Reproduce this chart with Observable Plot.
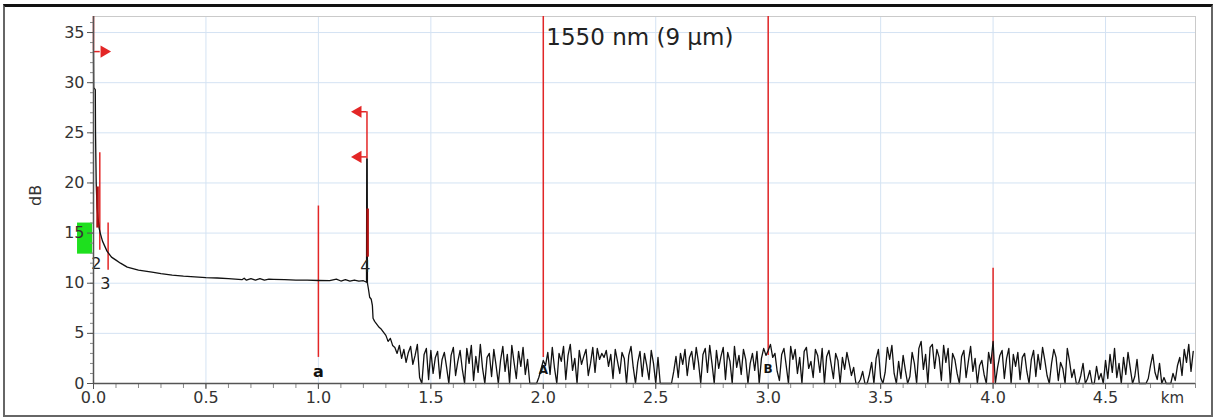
<!DOCTYPE html>
<html><head><meta charset="utf-8">
<script src="https://cdn.jsdelivr.net/npm/d3@7"></script>
<script src="https://cdn.jsdelivr.net/npm/@observablehq/plot@0.6"></script>
<style>
html,body{margin:0;padding:0;background:#fff;}
#wrap{position:relative;width:1215px;height:419px;overflow:hidden;}
#border{position:absolute;left:3px;top:4px;width:1210px;height:413px;box-sizing:border-box;border:2px solid #666;border-top:3px solid #111;pointer-events:none;}
</style></head><body>
<div id="wrap"><div id="chart"></div><div id="border"></div></div>
<script>
// ---- data ----
const xTicks = [0, 0.5, 1.0, 1.5, 2.0, 2.5, 3.0, 3.5, 4.0, 4.5];
const yTicks = [0, 5, 10, 15, 20, 25, 30, 35];
const title = "1550 nm (9 µm)";
const titleKm = 2.0, titleDb = 34.5;

// OTDR trace: near-end dead zone, fiber backscatter, end reflection, decay
const traceKm = [0, 0.001, 0.008, 0.009, 0.012, 0.016, 0.02, 0.025, 0.03, 0.04, 0.05, 0.06, 0.07, 0.08, 0.1, 0.12, 0.15, 0.2, 0.26, 0.3, 0.35, 0.4, 0.5, 0.55, 0.6, 0.66, 0.67, 0.68, 0.7, 0.72, 0.74, 0.76, 0.78, 0.8, 0.85, 0.9, 0.95, 1.0, 1.05, 1.08, 1.1, 1.12, 1.14, 1.16, 1.18, 1.2, 1.214, 1.215, 1.217, 1.218, 1.222, 1.228, 1.235, 1.24, 1.243, 1.25, 1.26, 1.27, 1.28, 1.29, 1.30, 1.31, 1.32, 1.33];
const traceDb = [33.2, 29.5, 29.3, 25.0, 20.0, 17.5, 16.5, 15.5, 15.0, 14.2, 13.7, 13.2, 12.9, 12.6, 12.3, 12.0, 11.6, 11.3, 11.1, 10.95, 10.8, 10.7, 10.55, 10.52, 10.45, 10.35, 10.5, 10.3, 10.45, 10.3, 10.45, 10.3, 10.4, 10.38, 10.35, 10.3, 10.3, 10.27, 10.25, 10.4, 10.22, 10.35, 10.2, 10.32, 10.2, 10.25, 10.1, 22.4, 22.4, 10.0, 9.5, 8.6, 8.4, 7.8, 6.5, 6.2, 5.9, 5.6, 5.4, 5.1, 4.8, 4.2, 4.5, 3.8];

// noise floor samples, one every 10 m from 1.34 km
const noiseStartKm = 1.34, noiseStepKm = 0.01;
const noiseDb = [
 3.6,3.0,3.8,2.5,3.4,2.1,3.1,3.7,1.9,2.8, 3.9,0.6,0,2.9,3.5,0.4,3.3,1.0,2.6,3.2,
 0.5,2.4,3.1,1.6,0,2.8,3.6,0.8,2.2,3.3, 1.4,0,3.5,2.0,3.8,0.3,2.7,1.1,3.9,1.5,
 0,2.6,3.0,0.7,3.4,1.8,0,2.3,3.7,1.2, 2.9,0,3.8,2.1,0.5,3.2,1.7,3.6,0.9,2.4,
 0,0,0,0,0.6,1.4,2.3,1.8,3.1,0.9, 3.6,1.5,0,3.0,2.2,3.7,0.4,2.8,3.9,1.3,
 2.5,0,3.3,1.9,2.7,3.4,0.8,2.0,3.6,1.1, 3.5,2.4,3.0,2.6,3.3,1.7,2.9,0.5,3.4,2.2,
 1.0,3.1,2.5,0,2.8,3.7,1.6,0,2.1,3.2, 0.7,3.0,1.8,0.4,3.3,2.0,0,2.6,0,0,
 0,0,0,0,1.2,2.7,0.6,3.0,1.9,3.4, 0.8,2.6,3.2,1.4,3.6,2.1,0,2.9,3.5,1.1,
 3.8,2.0,0,3.3,1.5,2.7,3.6,0.4,3.1,2.2, 0,3.7,1.6,2.8,0.9,3.4,2.4,0,2.0,3.0,
 1.3,3.2,0,2.5,3.5,2.8,3.3,3.9,2.6,3.0, 1.2,0.3,2.9,3.5,1.8,0,3.7,2.4,3.4,1.0,
 2.6,0,3.2,3.6,1.5,2.2,0.6,3.4,2.8,1.1, 3.5,0,2.7,3.3,1.9,0.5,3.0,2.3,0,2.6,
 1.4,3.1,2.0,0.8,1.6,0,0,0.4,1.2,0, 0,0.9,2.1,0,2.5,3.4,0.6,0,1.1,3.6,
 2.4,3.8,1.0,0,2.2,0.5,2.8,1.3,0,0.7, 3.1,2.0,0,3.5,4.2,1.4,2.9,0,3.6,3.9,
 1.5,3.4,2.6,0.3,3.8,2.1,3.5,0,3.0,2.4, 1.0,0,2.7,3.3,0.6,2.2,3.7,1.2,2.5,0,
 1.8,2.3,0.9,0,3.1,2.0,4.2,0,1.6,2.8, 3.3,0.5,2.5,3.5,0,2.9,1.7,3.1,0.4,2.6,
 3.0,1.2,0,2.4,3.3,0.7,2.9,1.4,3.6,2.3, 0.8,0,2.0,3.4,2.6,0.3,2.1,1.5,0,3.5,
 2.2,0.6,1.4,0,0,0.8,2.0,0,0.5,1.3, 0,0,1.7,0.4,1.0,0,2.3,0.5,2.9,1.1,
 3.5,0.6,2.0,0,2.6,0.9,3.1,1.5,0,0.7, 2.4,0,0,0,0,0.5,1.8,2.9,1.1,0.4,
 2.0,0,0.6,0,0,0,1.0,0.3,1.8,2.6, 0.8,3.4,2.1,3.9,1.2,3.2
];

// red cursor / event markers (drawn under the trace)
const cursorKm     = [0,    0.028, 0.065, 1.0,  1.216, 2.0,  3.0,  4.0];
const cursorTopDb  = [36.6, 23.0,  16.0,  17.7, 27.1,  36.6, 36.6, 11.5];
const cursorBotDb  = [33.2, 13.3,  11.3,  2.6,  22.4,  2.6,  2.8,  0];
// red overlays drawn on top of the trace
const overlayKm    = [0.018, 1.219];
const overlayTopDb = [19.6,  17.4];
const overlayBotDb = [15.5,  12.6];
// arrows
const arrowDb      = [33.1, 27.1, 22.6];
const arrowFromKm  = [0,    1.216, 1.216];
const arrowToKm    = [0.03, 1.19,  1.19];
const arrowHeadKm  = [0.047, 1.176, 1.176];
const arrowDir     = [90, -90, -90];
// event labels
const eventText = ["2", "3", "4"];
const eventKm   = [0.013, 0.053, 1.209];
const eventDb   = [11.96, 9.97, 11.67];
const cursorText = ["a", "A", "B"];
const cursorLabelKm = [1.0, 2.0, 3.0];
const cursorLabelDb = [1.2, 1.3, 1.4];
const cursorLabelSize = [16, 12, 12];
// launch-level marker
const launchKm = [-0.071, -0.004], launchDb = [12.9, 16.0];

// ---- build tables ----
const trace = traceKm.map((x, i) => ({x, y: traceDb[i]}))
  .concat(noiseDb.map((y, i) => ({x: +(noiseStartKm + i * noiseStepKm).toFixed(3), y})));
const cursors = cursorKm.map((x, i) => ({x, y1: cursorBotDb[i], y2: cursorTopDb[i]}));
const overlays = overlayKm.map((x, i) => ({x, y1: overlayBotDb[i], y2: overlayTopDb[i]}));
const arrows = arrowDb.map((y, i) => ({y, x1: arrowFromKm[i], x2: arrowToKm[i], hx: arrowHeadKm[i], rot: arrowDir[i]}));
const events = eventText.map((t, i) => ({t, x: eventKm[i], y: eventDb[i]}));
const cursorLabels = cursorText.map((t, i) => ({t, x: cursorLabelKm[i], y: cursorLabelDb[i], s: cursorLabelSize[i]}));

const red = "#e32626";
const grid = "#d4e3f3";
const axisCol = "#555";
const textCol = "#333";

const chart = Plot.plot({
  width: 1215, height: 419,
  marginLeft: 93, marginRight: 20, marginTop: 16, marginBottom: 36,
  style: {fontFamily: "DejaVu Sans, Verdana, sans-serif", fontSize: "16px", background: "#fff", color: textCol},
  x: {domain: [0, 4.9]},
  y: {domain: [0, 36.6]},
  marks: [
    Plot.gridX(xTicks, {stroke: grid, strokeOpacity: 1}),
    Plot.gridY(yTicks, {stroke: grid, strokeOpacity: 1}),
    Plot.frame({stroke: "#cacaca"}),
    Plot.rect([0], {x1: () => launchKm[0], x2: () => launchKm[1], y1: () => launchDb[0], y2: () => launchDb[1], fill: "#1ee01e"}),
    Plot.ruleX(cursors, {x: "x", y1: "y1", y2: "y2", stroke: red, strokeWidth: 1.5}),
    Plot.line(trace, {x: "x", y: "y", stroke: "#111", strokeWidth: 1.3}),
    Plot.ruleX(overlays, {x: "x", y1: "y1", y2: "y2", stroke: "#b01010", strokeWidth: 2.5}),
    Plot.ruleY(arrows, {y: "y", x1: "x1", x2: "x2", stroke: red, strokeWidth: 1.5}),
    Plot.dot(arrows, {x: "hx", y: "y", symbol: "triangle", r: 4.5, fill: red, stroke: null, rotate: "rot"}),
    Plot.text(events, {x: "x", y: "y", text: "t", fontSize: 16, fill: "#222"}),
    Plot.text(cursorLabels, {x: "x", y: "y", text: "t", fontSize: "s", fontWeight: "bold", fill: "#111"}),
    Plot.text([title], {x: () => titleKm, y: () => titleDb, dx: 3, textAnchor: "start", fontSize: 23, fill: "#222"}),
    // axes
    Plot.axisY(d3.range(0, 37, 1), {tickSize: 3, tickFormat: () => "", stroke: "#888", label: null}),
    Plot.axisY(yTicks, {tickSize: 6, tickPadding: 3, fontSize: 16, stroke: axisCol, fill: textCol, label: null}),
    Plot.axisX(d3.range(0, 4.95, 0.1), {tickSize: 5, tickFormat: () => "", stroke: "#888", label: null}),
    Plot.axisX(xTicks, {tickSize: 6, tickPadding: 2, tickFormat: ".1f", fontSize: 16, stroke: axisCol, fill: textCol, label: null}),
    Plot.ruleX([0], {stroke: axisCol, strokeWidth: 1.5}),
    Plot.ruleY([0], {stroke: axisCol, strokeWidth: 1.5}),
    Plot.text(["dB"], {frameAnchor: "left", dx: -58, dy: 6, rotate: -90, fontSize: 16, fill: textCol}),
    Plot.text(["km"], {frameAnchor: "bottom-right", textAnchor: "middle", lineAnchor: "middle", dx: -23, dy: 15, fontSize: 15, fill: textCol})
  ]
});
document.getElementById("chart").appendChild(chart);
</script>
</body></html>
